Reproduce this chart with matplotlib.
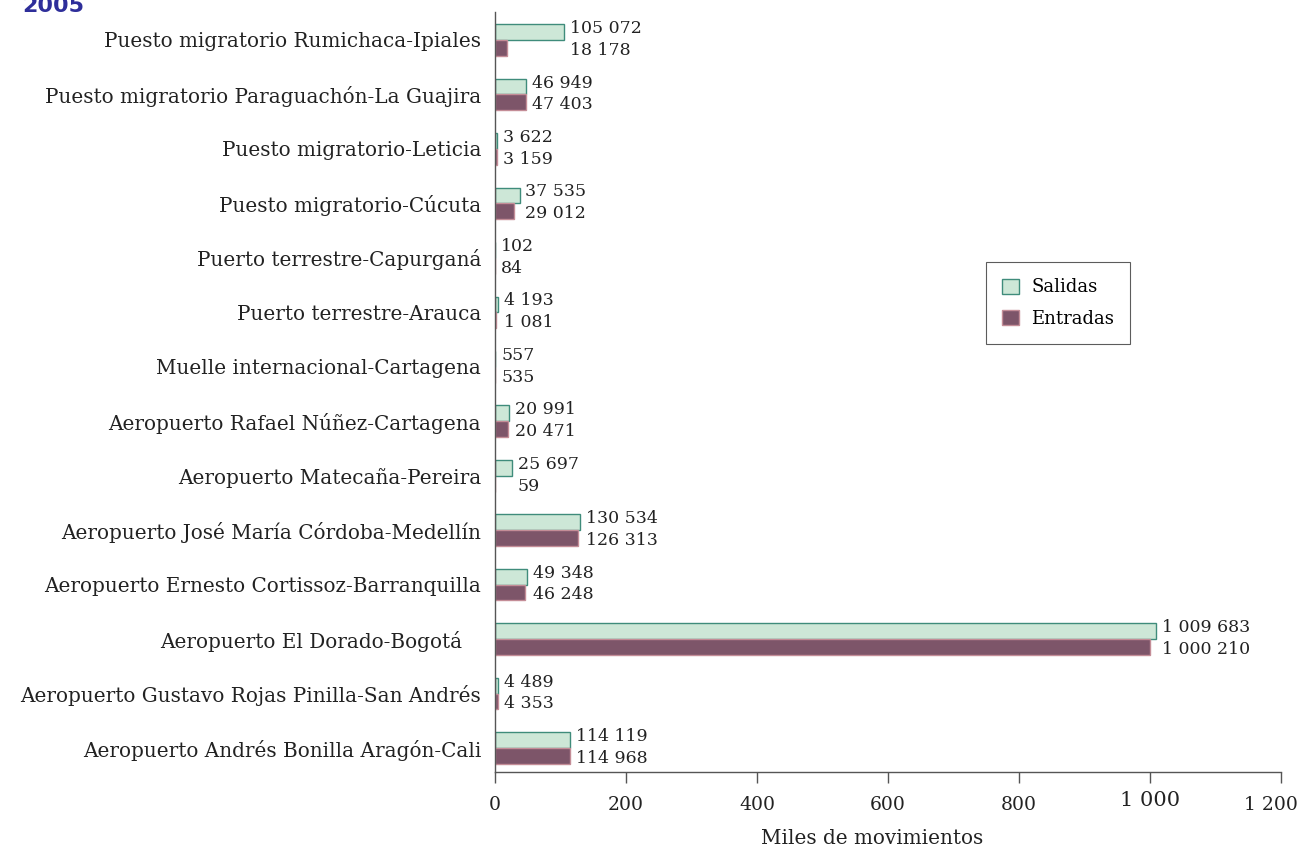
import matplotlib.pyplot as plt
import matplotlib.transforms as mtransforms
import numpy as np

categories = [
    "Puesto migratorio Rumichaca-Ipiales",
    "Puesto migratorio Paraguachón-La Guajira",
    "Puesto migratorio-Leticia",
    "Puesto migratorio-Cúcuta",
    "Puerto terrestre-Capurganá",
    "Puerto terrestre-Arauca",
    "Muelle internacional-Cartagena",
    "Aeropuerto Rafael Núñez-Cartagena",
    "Aeropuerto Matecaña-Pereira",
    "Aeropuerto José María Córdoba-Medellín",
    "Aeropuerto Ernesto Cortissoz-Barranquilla",
    "Aeropuerto El Dorado-Bogotá   ",
    "Aeropuerto Gustavo Rojas Pinilla-San Andrés",
    "Aeropuerto Andrés Bonilla Aragón-Cali",
]
salidas = [105072, 46949, 3622, 37535, 102, 4193, 557, 20991, 25697, 130534, 49348, 1009683, 4489, 114119]
entradas = [18178, 47403, 3159, 29012, 84, 1081, 535, 20471, 59, 126313, 46248, 1000210, 4353, 114968]
xticks = [0, 200, 400, 600, 800, 1000, 1200]

plt.rcParams['font.family'] = "DejaVu Serif"
TXT = "#222222"

fig = plt.figure(figsize=(13.01, 8.48), dpi=100)
ax = fig.add_axes([495 / 1301, 76 / 848, 786 / 1301, 760 / 848])

y = np.arange(len(categories))
h = 0.29
sal_k = np.array(salidas) / 1000
ent_k = np.array(entradas) / 1000

ax.barh(y - h / 2, sal_k, height=h, color="#cde7d7", edgecolor="#3f8c7b", linewidth=1.0, label="Salidas")
ax.barh(y + h / 2, ent_k, height=h, color="#7d5569", edgecolor="#c48d97", linewidth=1.0, label="Entradas")

def fmt(v):
    return f"{v:,}".replace(",", " ")

for i in range(len(categories)):
    xe = max(sal_k[i], ent_k[i]) + 9
    ax.text(xe, y[i] - 0.21, fmt(salidas[i]), va="center", ha="left", fontsize=12.5, color=TXT)
    ax.text(xe, y[i] + 0.19, fmt(entradas[i]), va="center", ha="left", fontsize=12.5, color=TXT)

ax.set_ylim(13.44, -0.514)
ax.set_xlim(0, 1200)
ax.set_yticks(y)
ax.set_yticklabels(categories, fontsize=14.4, color=TXT)
ax.tick_params(axis="y", length=0, pad=10)
ax.set_xticks(xticks)
ax.set_xticklabels([fmt(t) for t in xticks], fontsize=13.5, color=TXT)
ax.tick_params(axis="x", direction="out", length=8, width=1, color="#555555", pad=9)

# the last tick label sits inside the figure, the "1 000" one is raised a bit
xl = ax.get_xticklabels()
xl[-1].set_ha("right")
xl[-1].set_transform(xl[-1].get_transform() + mtransforms.ScaledTranslation(17 / 100, 0, fig.dpi_scale_trans))
xl[5].set_fontsize(15)
xl[5].set_transform(xl[5].get_transform() + mtransforms.ScaledTranslation(0, 5 / 100, fig.dpi_scale_trans))

ax.set_xlabel("Miles de movimientos", fontsize=14.4, color=TXT, labelpad=10)
ax.xaxis.set_label_coords(0.48, -0.075)

for s in ["top", "right"]:
    ax.spines[s].set_visible(False)
for s in ["left", "bottom"]:
    ax.spines[s].set_color("#555555")
    ax.spines[s].set_linewidth(1.0)

leg = ax.legend(loc="upper left", bbox_to_anchor=(986 / 1301, 1 - 262 / 848), bbox_transform=fig.transFigure,
                borderaxespad=0, fancybox=False, edgecolor="#333333", fontsize=13, handlelength=0.9,
                handleheight=0.9, borderpad=0.9, labelspacing=0.75, handletextpad=0.7)
leg.get_frame().set_linewidth(0.8)

fig.text(22 / 1301, 1 - 12 / 848, "2005", fontsize=16, fontweight="bold", color="#2e2e9a",
         family="DejaVu Sans", va="baseline", ha="left")

fig.savefig("out.png", dpi=100)
